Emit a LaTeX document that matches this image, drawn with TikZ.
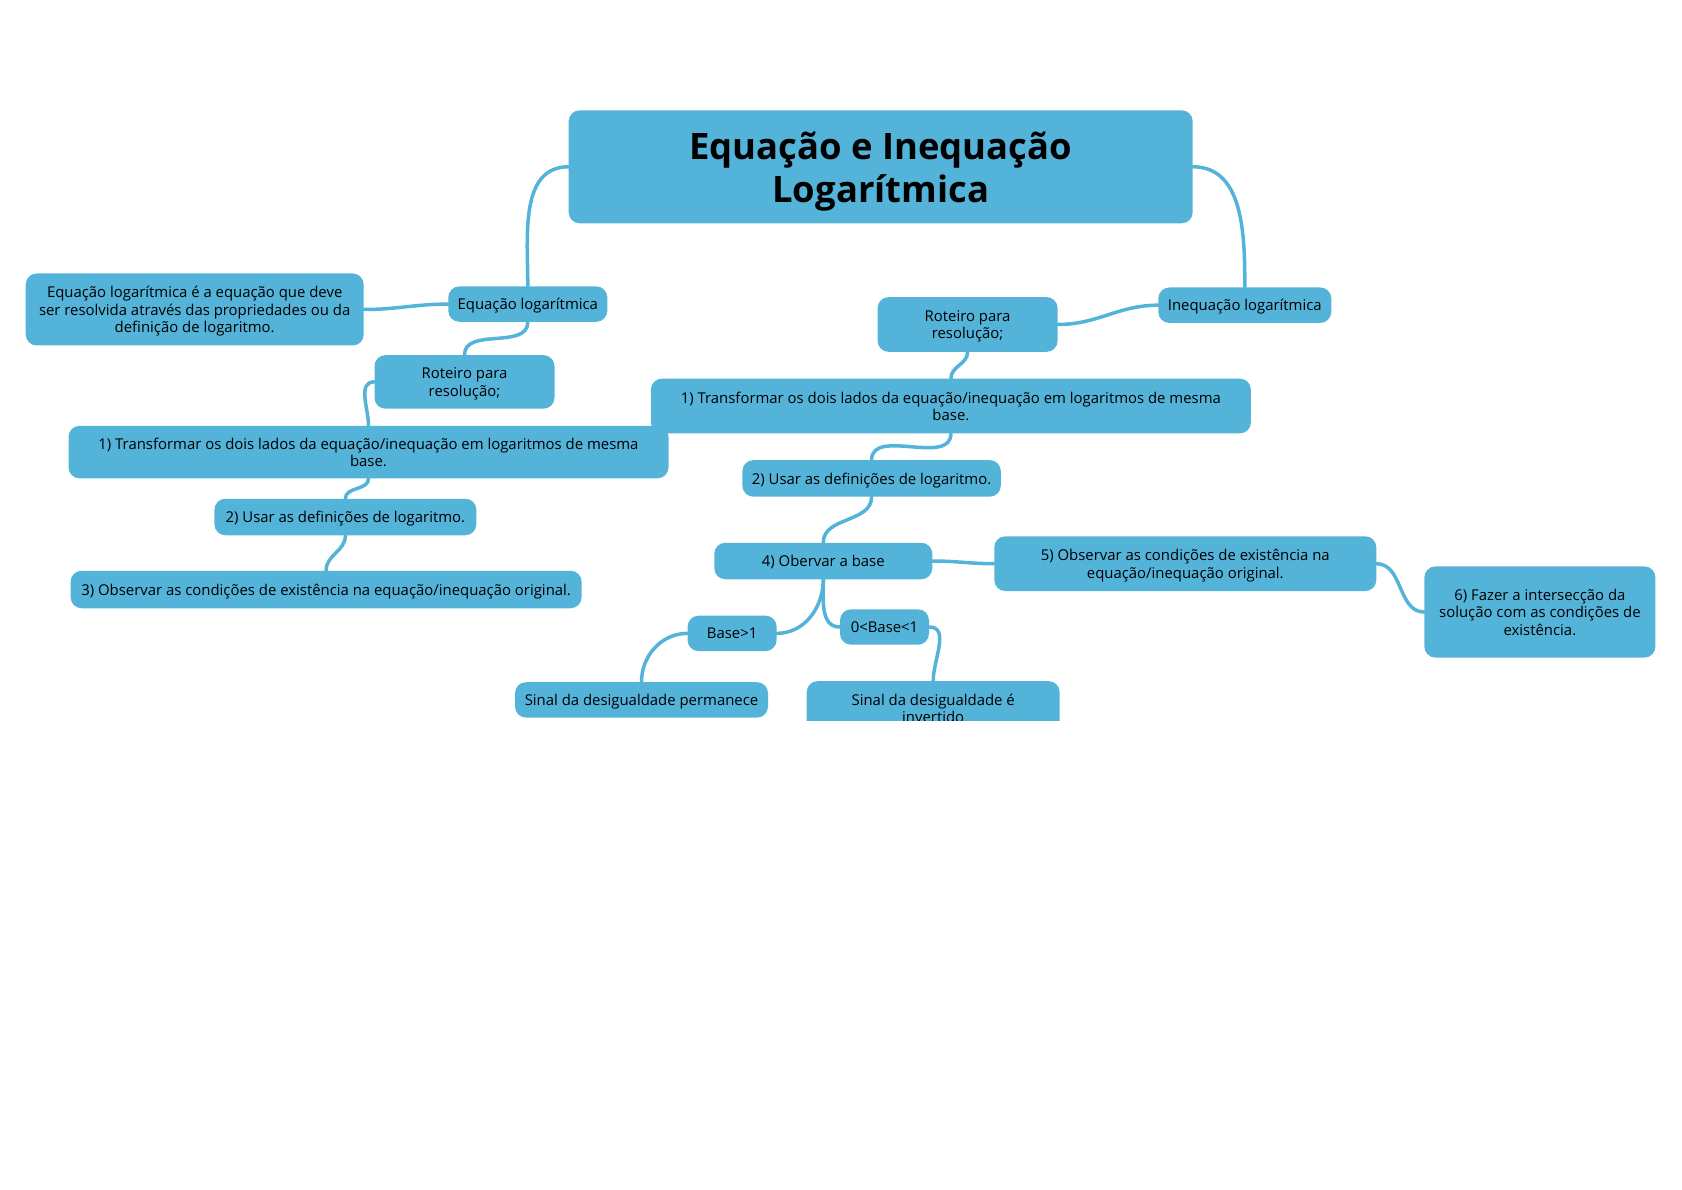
\documentclass[tikz,border=0pt]{standalone}
\usepackage{fontspec}
\setmainfont{Open Sans}
\usetikzlibrary{positioning}
\definecolor{mapblue}{RGB}{84,179,217}

\begin{document}
\begin{tikzpicture}[x=1pt,y=1pt,
  box/.style={fill=mapblue,rounded corners=11pt,align=center,inner sep=0pt,
    text depth=0pt,font=\fontsize{14.9}{17.4}\selectfont},
  branch/.style={draw=mapblue,line width=3.5pt,line cap=round}]
\useasboundingbox (0,0) rectangle (1682,-1190);
\begin{scope}
\clip (0,0) rectangle (1682,-720);
% central topic
\node [box,minimum width=624pt,minimum height=113pt,text depth=-4pt,
  font=\fontsize{36.4}{43}\selectfont\bfseries] (title) at (880.7,-166.8) {Equação e Inequação\\Logarítmica};
% left branch: equacao
\node [box,minimum width=159pt,minimum height=35.4pt] (eq) at (527.8,-304.1) {Equação logarítmica};
\node [box,minimum width=338pt,minimum height=72pt] (desc) at (194.7,-309.5) {Equação logarítmica é a equação que deve\\ser resolvida através das propriedades ou da\\definição de logaritmo.};
\node [box,minimum width=180pt,minimum height=53.6pt] (rotL) at (464.5,-381.9) {Roteiro para\\resolução;};
\node [box,minimum width=600pt,minimum height=52.5pt] (s1L) at (368.5,-452.1) {1) Transformar os dois lados da equação/inequação em logaritmos de mesma\\base.};
\node [box,minimum width=262pt,minimum height=36.5pt] (s2L) at (345.4,-517) {2) Usar as definições de logaritmo.};
\node [box,minimum width=511pt,minimum height=37.5pt] (s3L) at (326.1,-589.5) {3) Observar as condições de existência na equação/inequação original.};
% right branch: inequacao
\node [box,minimum width=173pt,minimum height=35.4pt] (ineq) at (1244.8,-305.2) {Inequação logarítmica};
\node [box,minimum width=180pt,minimum height=54.7pt] (rotR) at (967.6,-324.5) {Roteiro para\\resolução;};
\node [box,minimum width=600pt,minimum height=54.7pt] (s1R) at (950.9,-406) {1) Transformar os dois lados da equação/inequação em logaritmos de mesma\\base.};
\node [box,minimum width=258.5pt,minimum height=36.5pt] (s2R) at (871.6,-478.4) {2) Usar as definições de logaritmo.};
\node [box,minimum width=218pt,minimum height=36.5pt] (s4) at (823.3,-561) {4) Obervar a base};
\node [box,minimum width=382pt,minimum height=54.7pt] (s5) at (1185.3,-563.7) {5) Observar as condições de existência na\\equação/inequação original.};
\node [box,minimum width=231pt,minimum height=91.2pt] (s6) at (1539.9,-612) {6) Fazer a intersecção da\\solução com as condições de\\existência.};
\node [box,minimum width=89pt,minimum height=35.4pt] (bgt) at (732.1,-633.4) {Base>1};
\node [box,minimum width=89pt,minimum height=35.4pt] (blt) at (884.5,-627) {0<Base<1};
\node [box,minimum width=253pt,minimum height=35.4pt] (keep) at (641.5,-699.9) {Sinal da desigualdade permanece};
\node [box,minimum width=253pt,minimum height=54.7pt] (flip) at (933.2,-708.5) {Sinal da desigualdade é\\invertido};
% branches
\draw [branch] (title.west) to[out=180,in=90] (eq.north);
\draw [branch] (title.east) to[out=0,in=90] (ineq.north);
\draw [branch] (eq.west) to[out=180,in=0] (desc.east);
\draw [branch] (eq.south) to[out=-90,in=90] (rotL.north);
\draw [branch] (rotL.west) to[out=180,in=90] (s1L.north);
\draw [branch] (s1L.south) to[out=-90,in=90] (s2L.north);
\draw [branch] (s2L.south) to[out=-90,in=90] (s3L.north);
\draw [branch] (ineq.west) to[out=180,in=0] (rotR.east);
\draw [branch] (rotR.south) to[out=-90,in=90] (s1R.north);
\draw [branch] (s1R.south) to[out=-90,in=90] (s2R.north);
\draw [branch] (s2R.south) to[out=-90,in=90] (s4.north);
\draw [branch] (s4.east) to[out=0,in=180] (s5.west);
\draw [branch] (s5.east) to[out=0,in=180] (s6.west);
\draw [branch] (s4.south) to[out=-90,in=0] (bgt.east);
\draw [branch] (s4.south) to[out=-90,in=180] (blt.west);
\draw [branch] (bgt.west) to[out=180,in=90] (keep.north);
\draw [branch] (blt.east) to[out=0,in=90] (flip.north);
\end{scope}
\end{tikzpicture}
\end{document}
